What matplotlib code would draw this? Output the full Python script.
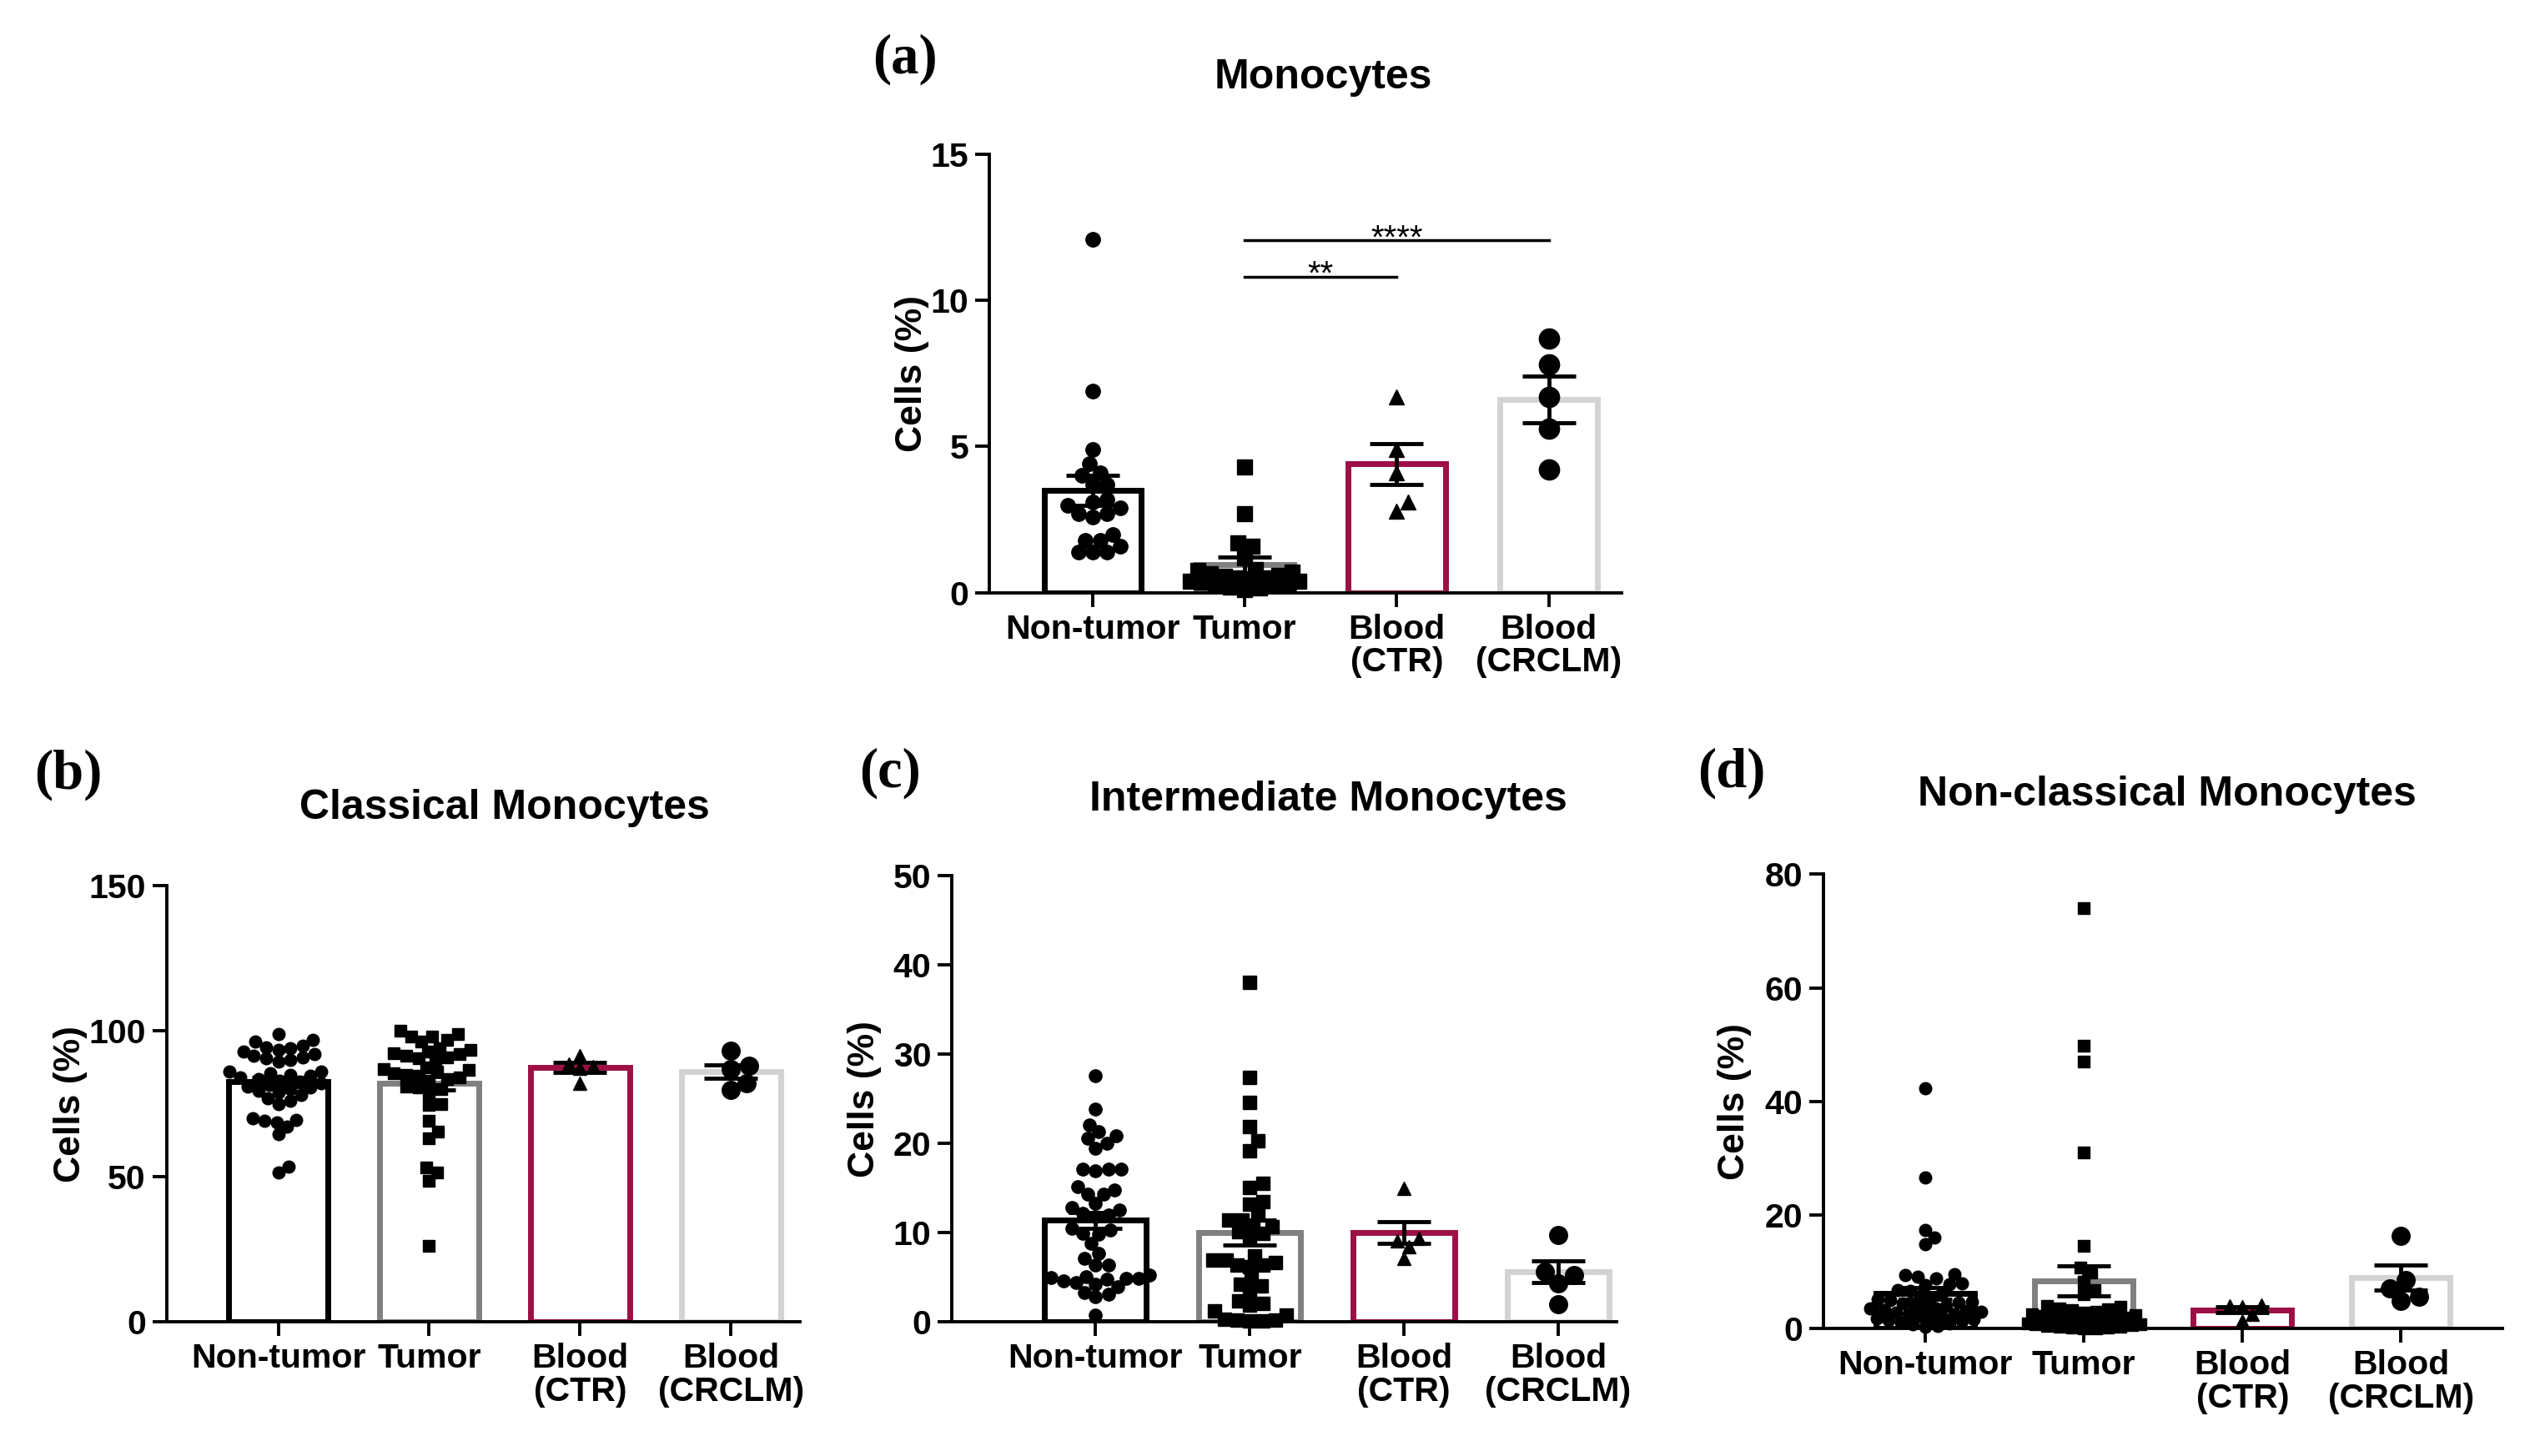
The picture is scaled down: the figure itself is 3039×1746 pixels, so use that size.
import numpy as np
import matplotlib
matplotlib.use("Agg")
import matplotlib.pyplot as plt

plt.rcParams["font.family"] = ["Liberation Sans", "DejaVu Sans"]
plt.rcParams["font.weight"] = "bold"

groups = ["Non-tumor", "Tumor", "Blood\n(CTR)", "Blood\n(CRCLM)"]
edge_colors = ["#000000", "#808080", "#9C1046", "#D3D3D3"]
markers = ["o", "s", "^", "o"]

# (a) Monocytes
a_nontumor = [12.1, 6.9, 4.9, 4.4, 4.1, 4.0, 3.7, 3.7, 3.2, 3.1, 3.0, 2.9, 2.7, 2.7,
              2.6, 2.0, 1.8, 1.8, 1.6, 1.4, 1.4, 1.4]
a_tumor = [4.3, 2.7, 1.7, 1.6, 1.2, 0.8, 0.75, 0.7, 0.65, 0.6, 0.55, 0.5, 0.5, 0.45,
           0.4, 0.4, 0.35, 0.3, 0.3, 0.25, 0.2, 0.15, 0.1]
a_ctr = [6.7, 4.9, 4.1, 3.1, 2.8]
a_crclm = [8.7, 7.8, 6.7, 5.6, 4.2]
a_mean = [3.5, 0.95, 4.4, 6.6]
a_sem = [0.5, 0.27, 0.7, 0.8]
a_sig = [(1, 2, 10.8, "**"), (1, 3, 12.05, "****")]

# (b) Classical Monocytes
b_nontumor = [99, 97, 96.5, 95, 94.5, 94, 93.5, 93, 92, 91.5, 91, 90.5, 90, 89.5,
              86, 86, 85.5, 85, 84.5, 84, 83.5, 83, 82.5, 82, 81.5, 81, 80.5, 80,
              79.5, 79, 78, 77, 76, 75, 70, 69.5, 69, 68.5, 67, 64.5, 53.5, 51.5]
b_tumor = [100, 99, 98, 98, 97, 96.5, 94, 93.5, 93, 92.5, 92, 91.5, 91, 90.5, 90,
           87.5, 87, 86.5, 86, 85.5, 85, 84.5, 84, 83.5, 83, 81, 80.5, 80, 79,
           75, 74.5, 69, 65.5, 63, 53, 51.5, 48.5, 26]
b_ctr = [91.5, 88.5, 87.8, 87.2, 82.0]
b_crclm = [93.2, 88.0, 87.0, 82.0, 79.8]
b_mean = [82.5, 82.0, 87.5, 86.0]
b_sem = [1.5, 2.2, 1.6, 2.3]

# (c) Intermediate Monocytes
c_nontumor = [27.6, 23.9, 22.1, 21.3, 20.9, 20.6, 20.0, 19.5, 17.1, 17.1, 17.1, 16.9,
              15.2, 14.8, 14.3, 14.3, 13.3, 12.8, 12.5, 12.2, 12.0, 11.8, 10.5, 10.3,
              9.9, 9.8, 8.8, 7.7, 7.1, 6.4, 6.4, 5.3, 5.1, 5.0, 4.9, 4.9, 4.8, 4.6,
              4.4, 4.2, 3.9, 3.3, 3.1, 2.8, 0.8]
c_tumor = [38.1, 27.4, 24.6, 21.9, 20.3, 19.2, 15.5, 15.1, 13.5, 13.2, 12.0, 11.4,
           11.4, 10.8, 10.7, 10.1, 9.9, 9.5, 7.4, 6.9, 6.9, 6.7, 6.4, 6.4, 6.2, 4.8,
           4.2, 4.0, 3.3, 2.4, 2.1, 1.9, 1.2, 0.8, 0.3, 0.2, 0.2, 0.1, 0.1]
c_ctr = [15.0, 9.4, 9.1, 8.4, 7.1]
c_crclm = [9.7, 5.6, 5.3, 4.3, 2.0]
c_mean = [11.4, 10.0, 10.0, 5.6]
c_sem = [0.9, 1.4, 1.2, 1.2]

# (d) Non-classical Monocytes
d_nontumor = [42.3, 26.6, 17.4, 16.0, 14.8, 9.6, 9.4, 9.2, 8.8, 7.9, 7.8, 7.7, 6.8,
              6.6, 6.2, 5.8, 5.5, 5.2, 5.0, 4.8, 4.6, 4.4, 4.2, 4.0, 3.8, 3.6, 3.5,
              3.3, 3.1, 3.0, 2.8, 2.6, 2.5, 2.3, 2.1, 2.0, 1.8, 1.6, 1.5, 1.3, 1.1,
              0.9, 0.7, 0.5, 0.3]
d_tumor = [74.0, 49.8, 47.0, 31.0, 14.6, 10.8, 9.8, 8.2, 6.8, 6.1, 4.0, 3.8, 3.6,
           3.4, 3.2, 3.0, 2.8, 2.6, 2.4, 2.2, 2.0, 1.8, 1.6, 1.5, 1.3, 1.1, 1.0, 0.9,
           0.8, 0.7, 0.6, 0.5, 0.4, 0.3, 0.2, 0.2, 0.1, 0.1]
d_ctr = [4.1, 4.0, 3.9, 2.6, 1.3]
d_crclm = [16.4, 8.6, 7.1, 5.6, 4.9]
d_mean = [6.2, 8.4, 3.3, 9.0]
d_sem = [1.0, 2.6, 0.5, 2.2]

fig = plt.figure(figsize=(30.39, 17.46), dpi=100)


def swarm(ax, x0, vals, diam, cap):
    # beeswarm in pixel space, spread limited to +-cap (data units)
    pts = ax.transData.transform(np.column_stack([np.full(len(vals), x0), vals]))
    ys = pts[:, 1]
    unit = ax.transData.transform([(1, 0)])[0, 0] - ax.transData.transform([(0, 0)])[0, 0]
    cap_px = cap * unit
    step = diam / 8.0
    cands = [0.0]
    k = 1
    while k * step <= cap_px:
        cands += [k * step, -k * step]
        k += 1
    cands = np.array(cands)
    thr = 0.92 * diam
    px, py = [], []
    offs = np.zeros(len(vals))
    for i in np.argsort(ys):
        y = ys[i]
        if px:
            d = np.sqrt((cands[:, None] - np.array(px)[None, :]) ** 2 + (y - np.array(py))[None, :] ** 2)
            dmin = d.min(axis=1)
            ok = np.where(dmin >= thr)[0]
            j = ok[0] if len(ok) else int(np.argmax(dmin))
        else:
            j = 0
        px.append(cands[j])
        py.append(y)
        offs[i] = cands[j]
    return x0 + offs / unit


def panel(rect, xlim, ymax, ystep, data, means, sems, ms, big_ms, bar_w, ylab_x):
    ax = fig.add_axes(rect)
    ax.set_xlim(*xlim)
    ax.set_ylim(0, ymax)
    pos = np.arange(4)
    ax.bar(pos, means, width=bar_w, color="white", edgecolor=edge_colors, linewidth=5, zorder=1)
    for i, vals in enumerate(data):
        size = big_ms if i == 3 else (ms * 1.05 if i == 2 else ms)
        xs = swarm(ax, pos[i], vals, size * 100 / 72, 0.36)
        ax.plot(xs, vals, ls="none", marker=markers[i], ms=size, color="black",
                mec="black", zorder=3, clip_on=False)
    ax.errorbar(pos, means, yerr=sems, fmt="none", ecolor="black", elinewidth=3.5,
                capsize=23, capthick=3.5, zorder=4)
    for s in ["top", "right"]:
        ax.spines[s].set_visible(False)
    for s in ["left", "bottom"]:
        ax.spines[s].set_linewidth(2.8)
    ax.set_yticks(np.arange(0, ymax + 0.01, ystep))
    ax.set_xticks(pos)
    ax.set_xticklabels(groups, fontsize=29.5, linespacing=1.05)
    ax.tick_params(axis="both", width=2.8, length=12, labelsize=29.5, pad=6)
    ax.set_ylabel("Cells (%)", fontsize=32, fontweight="bold")
    ax.yaxis.set_label_coords(ylab_x, 0.5)
    return ax


ax_a = panel([0.3903, 0.593, 0.2494, 0.301], (-0.68, 3.48), 15, 5,
             [a_nontumor, a_tumor, a_ctr, a_crclm], a_mean, a_sem, 12.5, 17.5, 0.64, -0.095)
for x1, x2, y, label in a_sig:
    ax_a.plot([x1, x2], [y, y], color="black", lw=2.5)
    ax_a.text((x1 + x2) / 2, y - 0.25, label, ha="center", va="baseline", fontsize=29,
              fontweight="normal")

ax_b = panel([0.0657, 0.0921, 0.25, 0.2997], (-0.74, 3.46), 150, 50,
             [b_nontumor, b_tumor, b_ctr, b_crclm], b_mean, b_sem, 10.5, 15.5, 0.66, -0.125)
ax_c = panel([0.3756, 0.0921, 0.2622, 0.3063], (-0.93, 3.38), 50, 10,
             [c_nontumor, c_tumor, c_ctr, c_crclm], c_mean, c_sem, 11, 15.5, 0.66, -0.106)
ax_d = panel([0.7194, 0.0875, 0.2678, 0.3121], (-0.64, 3.64), 80, 20,
             [d_nontumor, d_tumor, d_ctr, d_crclm], d_mean, d_sem, 10.5, 15.5, 0.62, -0.106)

titles = [("Monocytes", 0.522, 0.947), ("Classical Monocytes", 0.199, 0.445),
          ("Intermediate Monocytes", 0.524, 0.451), ("Non-classical Monocytes", 0.855, 0.454)]
for t, x, y in titles:
    fig.text(x, y, t, ha="center", va="center", fontsize=36)

letters = [("(a)", 0.357, 0.959), ("(b)", 0.027, 0.468), ("(c)", 0.351, 0.469), ("(d)", 0.683, 0.469)]
for t, x, y in letters:
    fig.text(x, y, t, ha="center", va="center", fontsize=48, fontweight="bold",
             family=["Liberation Serif", "DejaVu Serif"])

fig.savefig("out.png", dpi=100, facecolor="white")
